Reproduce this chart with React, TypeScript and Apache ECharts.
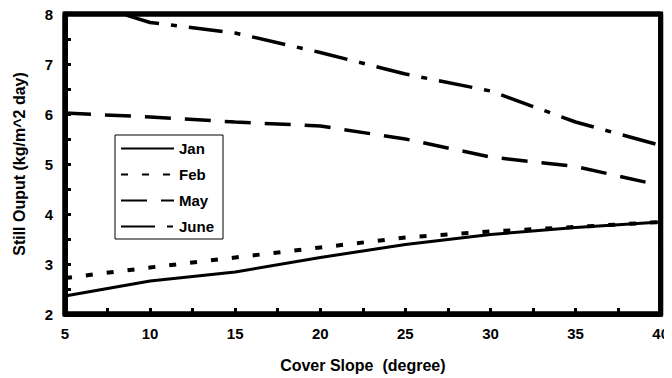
import React, { useEffect, useRef, useState } from "react";
import * as echarts from "echarts";

const slopes = [5, 10, 15, 20, 25, 30, 35, 40];
const jan = [2.36, 2.66, 2.84, 3.13, 3.39, 3.59, 3.73, 3.84];
const feb = [2.72, 2.93, 3.13, 3.33, 3.53, 3.65, 3.74, 3.84];
const may = [6.02, 5.94, 5.84, 5.76, 5.5, 5.14, 4.95, 4.57];
const june = [8.35, 7.83, 7.62, 7.23, 6.8, 6.46, 5.84, 5.37];
const seriesNames = ["Jan", "Feb", "May", "June"];
const xMin = 5;
const xMax = 40;
const yMin = 2;
const yMax = 8;

const FONT = "'Liberation Sans', Arial, sans-serif";

function pairs(ys: number[]) {
  return slopes.map((x, i) => [x, ys[i]]);
}

export default function App() {
  const ref = useRef<HTMLDivElement>(null);
  const [dbg, setDbg] = useState("");
  useEffect(() => {
    if (!ref.current) return;
    const chart = echarts.init(ref.current, undefined, { renderer: "svg" });
    chart.setOption({
      animation: false,
      grid: { left: 65, right: 11, top: 14, bottom: 62, show: true, borderColor: "#000", borderWidth: 5 },
      xAxis: {
        type: "value", min: xMin, max: xMax, interval: 5,
        name: "Cover Slope  (degree)",
        nameLocation: "middle",
        nameGap: 43,
        nameTextStyle: { color: "#000", fontFamily: FONT, fontWeight: "bold", fontSize: 16 },
        axisLine: { show: true, onZero: false, lineStyle: { color: "#000", width: 5 } },
        axisTick: { show: true, inside: true, length: 6, lineStyle: { color: "#000", width: 3 } },
        minorTick: { show: true, splitNumber: 2, length: 6, lineStyle: { color: "#000", width: 3 } },
        splitLine: { show: false },
        axisLabel: { color: "#000", fontFamily: FONT, fontWeight: "bold", fontSize: 15, margin: 12 },
      },
      yAxis: {
        type: "value", min: yMin, max: yMax, interval: 1,
        name: "Still Ouput (kg/m^2 day)",
        nameLocation: "middle",
        nameGap: 38,
        nameTextStyle: { color: "#000", fontFamily: FONT, fontWeight: "bold", fontSize: 16 },
        axisLine: { show: true, onZero: false, lineStyle: { color: "#000", width: 5 } },
        axisTick: { show: true, inside: true, length: 6, lineStyle: { color: "#000", width: 3 } },
        minorTick: { show: true, splitNumber: 2, length: 6, lineStyle: { color: "#000", width: 3 } },
        splitLine: { show: false },
        axisLabel: { color: "#000", fontFamily: FONT, fontWeight: "bold", fontSize: 15, margin: 12 },
      },
      legend: {
        orient: "vertical",
        left: 115,
        top: 135,
        backgroundColor: "#fff",
        borderColor: "#000",
        borderWidth: 1,
        padding: [6, 9, 5, 5],
        itemWidth: 53,
        itemHeight: 14,
        itemGap: 11,
        itemStyle: { opacity: 0 },
        textStyle: { color: "#000", fontFamily: FONT, fontWeight: "bold", fontSize: 15 },
        data: seriesNames,
      },
      series: [
        {
          name: "frame",
          type: "line",
          silent: true,
          clip: false,
          symbol: "none",
          z: 1,
          data: [[xMin, yMin], [xMin, yMax], [xMax, yMax], [xMax, yMin], [xMin, yMin]],
          lineStyle: { color: "#000", width: 5 },
        },
        { name: seriesNames[0], type: "line", data: pairs(jan), symbol: "none", lineStyle: { color: "#000", width: 3 } },
        { name: seriesNames[1], type: "line", data: pairs(feb), symbol: "none", lineStyle: { color: "#000", width: 4, type: [7, 14] } },
        { name: seriesNames[2], type: "line", data: pairs(may), symbol: "none", lineStyle: { color: "#000", width: 3.5, type: [26, 14] } },
        { name: seriesNames[3], type: "line", data: pairs(june), symbol: "none", lineStyle: { color: "#000", width: 3.5, type: [34, 12, 6, 12] } },
      ],
    });
    const els = Array.from(ref.current.querySelectorAll("svg *")) as Element[];
    setDbg(String(els.length) + els.slice(0, 3).map((e) => e.outerHTML.length).join(","));
    return () => chart.dispose();
  }, []);
  return (
    <div style={{ position: "relative" }} data-n={dbg}>
      <div ref={ref} style={{ width: 672, height: 378, marginLeft: -8, marginTop: -8 }} />
      <pre style={{ display: "none" }}>{dbg}</pre>
    </div>
  );
}
